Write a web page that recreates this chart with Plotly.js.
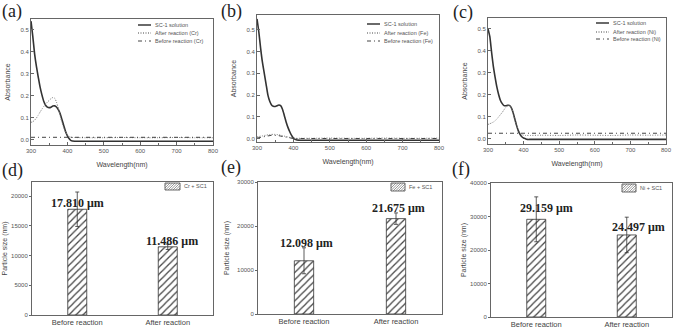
<!DOCTYPE html>
<html><head><meta charset="utf-8">
<script src="https://cdn.plot.ly/plotly-3.0.1.min.js"></script>
<style>html,body{margin:0;padding:0;background:#fff}#chart{width:673px;height:329px}</style>
</head><body><div id="chart"></div>
<script>
// ---------- DATA ----------
const wavelength = [300,305,310,315,320,325,330,335,340,345,350,355,360,365,370,375,380,385,390,395,400,405,410,420,450,500,550,600,650,700,750,800];

const crSolution = [0.54,0.47,0.39,0.333,0.285,0.24,0.205,0.176,0.158,0.149,0.147,0.149,0.154,0.155,0.15,0.138,0.12,0.093,0.065,0.038,0.018,0.005,-0.003,-0.006,-0.006,-0.006,-0.006,-0.006,-0.006,-0.006,-0.006,-0.006];
const crAfter    = [0.08,0.083,0.09,0.1,0.113,0.127,0.14,0.152,0.163,0.172,0.18,0.188,0.193,0.19,0.172,0.145,0.11,0.08,0.055,0.035,0.022,0.015,0.012,0.011,0.01,0.01,0.011,0.01,0.01,0.011,0.01,0.01];
const crBefore   = [0.012,0.012,0.012,0.012,0.012,0.012,0.012,0.012,0.012,0.012,0.012,0.012,0.012,0.012,0.012,0.012,0.012,0.012,0.012,0.012,0.012,0.012,0.012,0.012,0.012,0.012,0.012,0.012,0.012,0.012,0.012,0.012];

const feSolution = [0.55,0.49,0.415,0.35,0.3,0.25,0.2,0.172,0.155,0.149,0.148,0.151,0.155,0.152,0.135,0.107,0.077,0.052,0.032,0.015,0.003,-0.003,-0.006,-0.007,-0.007,-0.007,-0.007,-0.007,-0.007,-0.007,-0.007,-0.007];
const feAfter    = [0.008,0.01,0.012,0.013,0.015,0.016,0.018,0.019,0.02,0.02,0.02,0.019,0.018,0.016,0.014,0.012,0.01,0.008,0.006,0.004,0.003,0.002,0.002,0.002,0.002,0.003,0.002,0.002,0.003,0.002,0.002,0.003];
const feBefore   = [0.003,0.005,0.006,0.008,0.01,0.012,0.014,0.015,0.016,0.016,0.016,0.015,0.014,0.012,0.01,0.008,0.006,0.004,0.003,0.002,0.001,0.001,0.001,0.001,0.001,0.001,0.001,0.001,0.001,0.001,0.001,0.001];

const niSolution = [0.5,0.466,0.395,0.33,0.28,0.235,0.2,0.174,0.16,0.151,0.15,0.152,0.152,0.143,0.122,0.092,0.062,0.037,0.02,0.009,0.003,0.0,-0.003,-0.003,-0.003,-0.003,-0.003,-0.003,-0.003,-0.003,-0.003,-0.003];
const niAfter    = [0.065,0.068,0.072,0.076,0.082,0.09,0.1,0.11,0.12,0.132,0.143,0.15,0.152,0.143,0.122,0.092,0.063,0.04,0.026,0.019,0.016,0.015,0.015,0.015,0.016,0.015,0.017,0.016,0.015,0.017,0.016,0.017];
const niBefore   = [0.025,0.025,0.025,0.025,0.025,0.025,0.025,0.025,0.025,0.025,0.025,0.025,0.025,0.025,0.025,0.025,0.025,0.025,0.025,0.025,0.025,0.025,0.025,0.025,0.025,0.025,0.025,0.025,0.025,0.025,0.025,0.025];

const categories = ["Before reaction", "After reaction"];
const crSize = [17810, 11486];
const crErr  = [2900, 450];
const feSize = [12098, 21675];
const feErr  = [2950, 1300];
const niSize = [29159, 24497];
const niErr  = [6700, 5300];

const specLegend = [["SC-1 solution","After reaction (Cr)","Before reaction (Cr)"],
                    ["SC-1 solution","After reaction (Fe)","Before reaction (Fe)"],
                    ["SC-1 solution","After reaction (Ni)","Before reaction (Ni)"]];
const barLegend = ["Cr + SC1", "Fe + SC1", "Ni + SC1"];
const panelLabels = ["(a)","(b)","(c)","(d)","(e)","(f)"];

// ---------- LAYOUT HELPERS ----------
const W = 673, H = 329;
const px = x => x / W;
const py = y => 1 - y / H;
const SANS = "Liberation Sans, Arial, sans-serif";
const SERIF = "Liberation Serif, Times New Roman, serif";

const traces = [];
const specs = [
  {sol: crSolution, aft: crAfter, bef: crBefore, n: ""},
  {sol: feSolution, aft: feAfter, bef: feBefore, n: "2"},
  {sol: niSolution, aft: niAfter, bef: niBefore, n: "3"}
];
specs.forEach((s, i) => {
  const xa = "x" + s.n, ya = "y" + s.n;
  traces.push({x: wavelength, y: s.sol, xaxis: xa, yaxis: ya, type: "scatter", mode: "lines",
    name: specLegend[i][0], showlegend: false, line: {color: "#333", width: 1.6, shape: "spline", smoothing: 0.6}});
  traces.push({x: wavelength, y: s.aft, xaxis: xa, yaxis: ya, type: "scatter", mode: "lines",
    name: specLegend[i][1], showlegend: false, line: {color: "#777", width: 1, dash: "1px,1.5px", shape: "spline", smoothing: 0.6}});
  traces.push({x: wavelength, y: s.bef, xaxis: xa, yaxis: ya, type: "scatter", mode: "lines",
    name: specLegend[i][2], showlegend: false, line: {color: "#444", width: 1, dash: "4px,3px,1px,3px"}});
});

const bars = [
  {v: crSize, e: crErr, n: "4"},
  {v: feSize, e: feErr, n: "5"},
  {v: niSize, e: niErr, n: "6"}
];
bars.forEach((b, i) => {
  traces.push({x: categories, y: b.v, xaxis: "x" + b.n, yaxis: "y" + b.n, type: "bar", width: 0.21,
    name: barLegend[i], showlegend: false,
    marker: {color: "#fff", line: {color: "#333", width: 0.8},
      pattern: {shape: "/", fgcolor: "#444", bgcolor: "#fff", size: 5, solidity: 0.25}},
    error_y: {type: "data", array: b.e, visible: true, color: "#333", thickness: 0.8, width: 2}});
});

// domains in pixels [x0,x1,ytop,ybottom]
const specDom = [[31,213,19,145],[257,439,15,142],[488,666,18,144]];
const specRange = [[-0.023,0.55],[-0.015,0.568],[-0.024,0.55]];
const barDom = [[32,213,182,315],[258,442,182,314],[491,672,183,317]];
const barRange = [[0,22400],[0,30000],[0,40000]];
const barDtick = [5000,10000,10000];
const barStandoff = [2,6,2];

const layout = {
  width: W, height: H, margin: {l:0,r:0,t:0,b:0}, paper_bgcolor: "#fff", plot_bgcolor: "#fff",
  font: {family: SANS, color: "#444"}, showlegend: false, bargap: 0,
  annotations: [], shapes: []
};
const axName = (p, k) => p + "axis" + (k === 1 ? "" : k);

specDom.forEach((d, i) => {
  const k = i + 1;
  layout[axName("x", k)] = {domain: [px(d[0]), px(d[1])], anchor: "y" + (k===1?"":k),
    range: [300, 800], tick0: 300, dtick: 100, ticks: "inside", ticklen: 3, tickcolor: "#666",
    minor: {ticks: "inside", ticklen: 2, dtick: 50, tick0: 300, tickcolor: "#666"},
    showline: true, mirror: true, linecolor: "#666", linewidth: 1, showgrid: false, zeroline: false,
    tickfont: {size: 6, color: "#555"},
    title: {text: "Wavelength(nm)", font: {size: 7, color: "#444"}, standoff: 8}};
  layout[axName("y", k)] = {domain: [py(d[3]), py(d[2])], anchor: "x" + (k===1?"":k),
    range: specRange[i], tick0: 0, dtick: 0.1, tickformat: ".1f", ticks: "inside", ticklen: 3, tickcolor: "#666",
    showline: true, mirror: true, linecolor: "#666", linewidth: 1, showgrid: false, zeroline: false,
    tickfont: {size: 6, color: "#555"},
    title: {text: "Absorbance", font: {size: 7, color: "#444"}, standoff: 9}};
});
barDom.forEach((d, i) => {
  const k = i + 4;
  layout[axName("x", k)] = {domain: [px(d[0]), px(d[1])], anchor: "y" + k, type: "category",
    range: [-0.5, 1.5], ticks: "", showline: true, mirror: true, linecolor: "#666", linewidth: 1,
    showgrid: false, zeroline: false, tickfont: {size: 7.5, color: "#444"}};
  layout[axName("y", k)] = {domain: [py(d[3]), py(d[2])], anchor: "x" + k,
    range: barRange[i], tick0: 0, dtick: barDtick[i], tickformat: "d", ticks: "outside", ticklen: 2, tickcolor: "#666",
    showline: true, mirror: true, linecolor: "#666", linewidth: 1, showgrid: false, zeroline: false,
    tickfont: {size: 6, color: "#555"},
    title: {text: "Particle size (nm)", font: {size: 7, color: "#444"}, standoff: barStandoff[i]}};
});

// value labels on bars
const labelShift = [[[0,6],[4,6]],[[2,18],[2,11]],[[10,11],[12,8]]];
bars.forEach((b, i) => {
  b.v.forEach((v, j) => {
    layout.annotations.push({xref: "x" + b.n, yref: "y" + b.n, x: categories[j], y: v,
      text: (v / 1000).toFixed(3) + " μm", showarrow: false, yanchor: "middle",
      xshift: labelShift[i][j][0], yshift: labelShift[i][j][1],
      font: {family: SERIF, size: 12, color: "#222", weight: "bold"}});
  });
});

// panel labels
const panelPos = [[0,11],[219,11],[451,12],[0,170],[219,167],[450,169]];
panelLabels.forEach((t, i) => {
  layout.annotations.push({xref: "paper", yref: "paper", x: px(panelPos[i][0]), y: py(panelPos[i][1]),
    text: t, showarrow: false, xanchor: "left", yanchor: "middle",
    font: {family: SERIF, size: 18, color: "#222"}});
});

// spectra legends (manual, compact)
const specLeg = [[138,151,153,[25,33,41]],[367,380,382,[24,33,41]],[596,609,611,[23,32,39]]];
const dashes = ["solid","1px,1.5px","4px,3px,1px,3px"];
const widths = [1.6,1,1];
specLeg.forEach((L, i) => {
  L[3].forEach((yy, j) => {
    layout.shapes.push({type: "line", xref: "paper", yref: "paper", x0: px(L[0]), x1: px(L[1]),
      y0: py(yy), y1: py(yy), line: {color: "#444", width: widths[j], dash: dashes[j]}});
    layout.annotations.push({xref: "paper", yref: "paper", x: px(L[2]), y: py(yy), text: specLegend[i][j],
      showarrow: false, xanchor: "left", yanchor: "middle", font: {size: 5.5, color: "#555"}});
  });
});

// bar legends (hatched swatch + text)
const barLeg = [[165,180,183,190],[391,405,183,191],[622,636,184,192]];
barLeg.forEach((L, i) => {
  const [x0, x1, yt, yb] = L;
  layout.shapes.push({type: "rect", xref: "paper", yref: "paper", x0: px(x0), x1: px(x1), y0: py(yb), y1: py(yt),
    line: {color: "#444", width: 0.8}, fillcolor: "#fff"});
  const h = yb - yt;
  let path = "";
  for (let t = -h; t < (x1 - x0); t += 2.5) {
    let sx = x0 + t, sy = yb, ex = x0 + t + h, ey = yt;
    if (sx < x0) { sy = yb - (x0 - sx); sx = x0; }
    if (ex > x1) { ey = yt + (ex - x1); ex = x1; }
    if (ex <= sx) continue;
    path += "M" + px(sx) + "," + py(sy) + "L" + px(ex) + "," + py(ey);
  }
  layout.shapes.push({type: "path", xref: "paper", yref: "paper", path: path, line: {color: "#555", width: 0.6}});
  layout.annotations.push({xref: "paper", yref: "paper", x: px(x1 + 2), y: py((yt + yb) / 2), text: barLegend[i],
    showarrow: false, xanchor: "left", yanchor: "middle", font: {size: 5.5, color: "#555"}});
});

Plotly.newPlot("chart", traces, layout, {staticPlot: true, displayModeBar: false});
</script>
</body></html>
